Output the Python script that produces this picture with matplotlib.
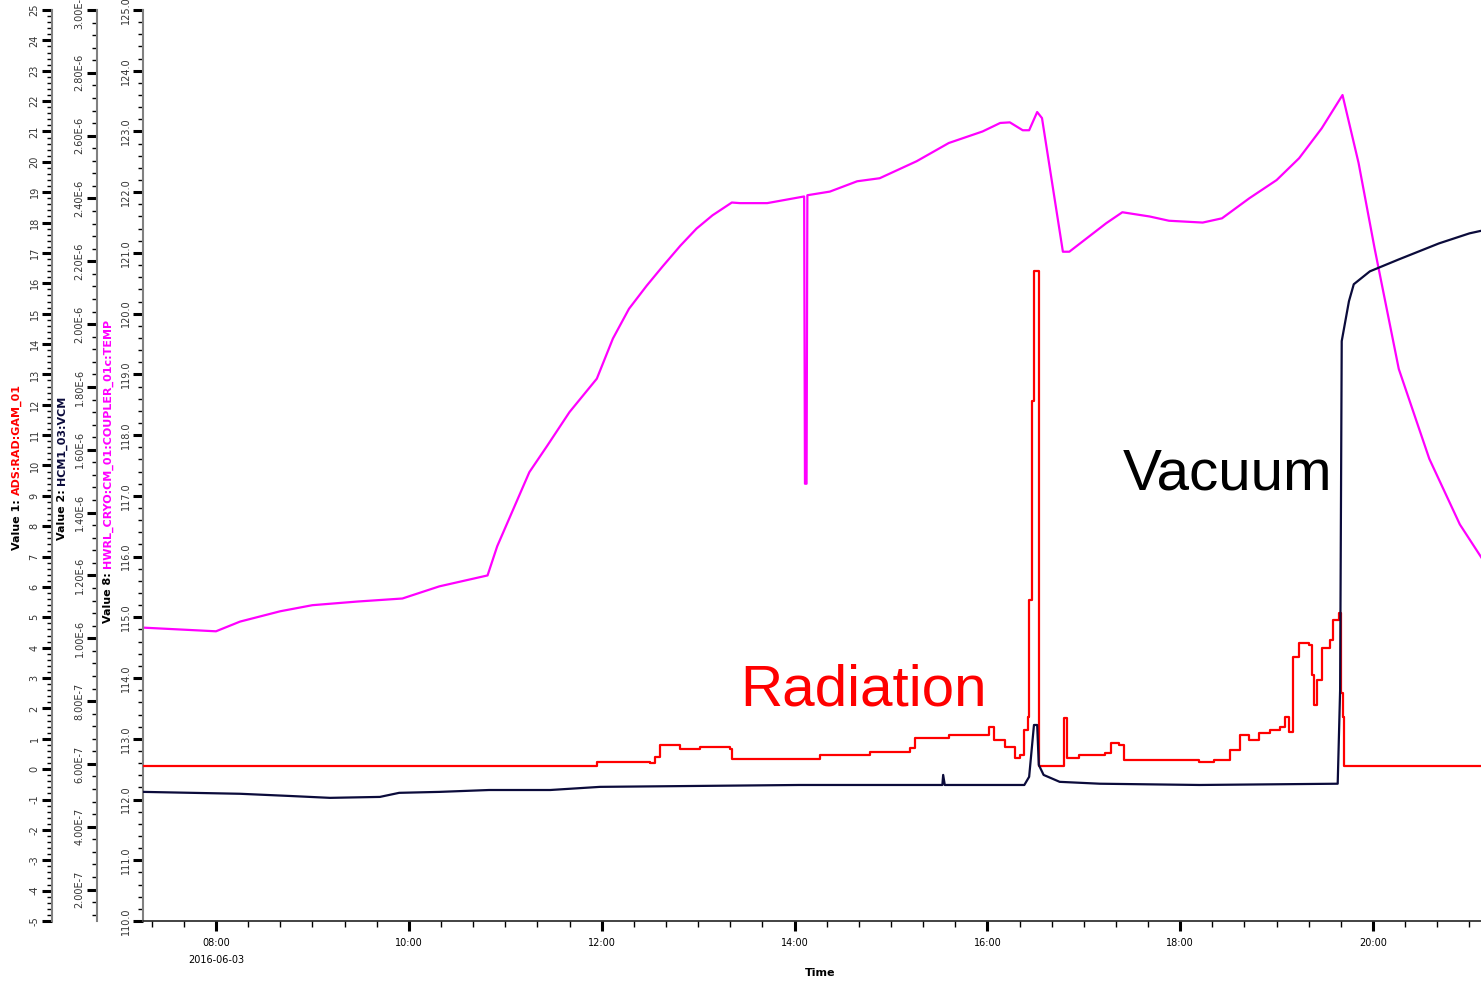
import matplotlib
matplotlib.use('Agg')
from matplotlib import pyplot as plt
import matplotlib.dates as mdates
from matplotlib.ticker import MultipleLocator, FuncFormatter
import numpy as np
import pandas as pd

DAY = '2016-06-03 '

# Value 8: HWRL_CRYO:CM_01:COUPLER_01c:TEMP
temp_t = ['07:15', '08:00', '08:15', '08:40', '09:00', '09:28', '09:56', '10:19', '10:49',
          '10:55', '11:05', '11:15', '11:26', '11:40', '11:57', '12:07', '12:17', '12:28',
          '12:38', '12:49', '12:59', '13:09', '13:21', '13:26', '13:43', '14:06', '14:06:30',
          '14:07:30', '14:08', '14:22', '14:39', '14:53', '15:16', '15:36', '15:57', '16:08',
          '16:14', '16:22', '16:26', '16:31', '16:34', '16:47', '16:51', '17:14', '17:24',
          '17:41', '17:53', '18:14', '18:26', '18:43', '19:00', '19:14', '19:28', '19:41',
          '19:51', '20:01', '20:16', '20:35', '20:54', '21:08']
temp_v = [114.83, 114.77, 114.93, 115.10, 115.20, 115.26, 115.31, 115.51, 115.69,
          116.17, 116.78, 117.39, 117.82, 118.38, 118.93, 119.59, 120.08, 120.46,
          120.78, 121.12, 121.40, 121.62, 121.83, 121.82, 121.82, 121.93, 117.20,
          117.20, 121.95, 122.01, 122.18, 122.23, 122.51, 122.81, 123.00, 123.14,
          123.15, 123.02, 123.02, 123.32, 123.22, 121.02, 121.02, 121.49, 121.67,
          121.60, 121.53, 121.50, 121.57, 121.90, 122.20, 122.56, 123.05, 123.60,
          122.48, 121.07, 119.09, 117.61, 116.53, 115.96]

# Value 2: HCM1_03:VCM (units of 1E-6)
vac_t = ['07:15', '08:15', '08:46', '09:11', '09:42', '09:54', '10:19', '10:50', '11:28',
         '11:59', '13:01', '14:03', '15:32', '15:32:30', '15:33:30', '16:23', '16:26',
         '16:29', '16:31', '16:32', '16:35', '16:45', '17:10', '18:12', '19:38',
         '19:39:30', '19:40:30', '19:45', '19:48', '19:58', '20:16', '20:41', '21:00', '21:08']
vac_v = [0.511, 0.505, 0.498, 0.492, 0.495, 0.508, 0.511, 0.517, 0.517,
         0.527, 0.530, 0.533, 0.533, 0.565, 0.533, 0.533, 0.559,
         0.724, 0.724, 0.597, 0.565, 0.543, 0.537, 0.533, 0.537,
         0.835, 1.946, 2.073, 2.127, 2.168, 2.206, 2.257, 2.289, 2.298]

# Value 1: ADS:RAD:GAM_01
rad_t = ['07:15', '11:56', '11:57', '12:30', '12:33', '12:36', '12:49', '13:01', '13:20',
         '13:21', '13:38', '14:16', '14:47', '15:12', '15:15', '15:36', '16:01', '16:04',
         '16:11', '16:17', '16:20', '16:23', '16:25', '16:26', '16:28', '16:29', '16:31',
         '16:32', '16:47', '16:48', '16:49', '16:49:30', '16:57', '17:13', '17:17', '17:22',
         '17:25', '18:12', '18:21', '18:31', '18:37', '18:43', '18:49', '18:56', '19:02',
         '19:05', '19:08', '19:10', '19:14', '19:20', '19:22', '19:23', '19:25', '19:28',
         '19:33', '19:35', '19:39', '19:40', '19:41', '19:42', '21:08']
rad_v = [0.10, 0.10, 0.23, 0.20, 0.39, 0.79, 0.66, 0.72, 0.66,
         0.33, 0.33, 0.46, 0.56, 0.69, 1.02, 1.12, 1.38, 0.95,
         0.72, 0.36, 0.46, 1.28, 1.71, 5.56, 12.14, 16.41, 16.41,
         0.10, 0.10, 1.68, 1.68, 0.36, 0.46, 0.53, 0.86, 0.79,
         0.30, 0.23, 0.30, 0.63, 1.12, 0.95, 1.18, 1.28, 1.38,
         1.71, 1.22, 3.68, 4.14, 4.08, 3.09, 2.11, 2.93, 3.98,
         4.24, 4.90, 5.13, 2.50, 1.71, 0.10, 0.10]

MAGENTA = '#ff00ff'
RED = '#ff0000'
NAVY = '#0b0b3b'
SPINE = '#808080'
TXT = '#333333'


def times(lst):
    return pd.to_datetime([DAY + (s if s.count(':') == 2 else s + ':00') for s in lst])


W, H = 1481, 981
fig = plt.figure(figsize=(W / 100, H / 100), dpi=100)
plot_w = (W - 143) / W
ax = fig.add_axes([143 / W, 60 / H, plot_w, 911 / H])
ax_rad = ax.twinx()
ax_vac = ax.twinx()

ax.plot(times(temp_t), temp_v, color=MAGENTA, lw=1.6)
ax_vac.plot(times(vac_t), np.array(vac_v) * 1e-6, color=NAVY, lw=1.6)
ax_rad.plot(times(rad_t), rad_v, color=RED, lw=1.6, drawstyle='steps-post')

ax.set_xlim(pd.Timestamp(DAY + '07:14:36'), pd.Timestamp(DAY + '21:07:10'))
ax.set_ylim(110, 125)
ax_rad.set_ylim(-5, 25)
ax_vac.set_ylim(1.0e-7, 3.0e-6)

# left axes stacked outward
for a, off in [(ax_rad, -91), (ax_vac, -46)]:
    a.yaxis.set_ticks_position('left')
    a.yaxis.set_label_position('left')
    a.spines['left'].set_position(('axes', off / (W - 143)))
    a.spines['left'].set_visible(True)
    for s in ['top', 'right', 'bottom']:
        a.spines[s].set_visible(False)
    a.patch.set_visible(False)
ax.spines['top'].set_visible(False)
ax.spines['right'].set_visible(False)

ax.yaxis.set_major_locator(MultipleLocator(1))
ax.yaxis.set_minor_locator(MultipleLocator(0.2))
ax.yaxis.set_major_formatter(FuncFormatter(lambda v, p: '%.1f' % v))
ax_rad.yaxis.set_major_locator(MultipleLocator(1))
ax_rad.yaxis.set_minor_locator(MultipleLocator(0.2))
ax_rad.yaxis.set_major_formatter(FuncFormatter(lambda v, p: '%d' % round(v)))
ax_vac.yaxis.set_major_locator(MultipleLocator(2e-7))
ax_vac.yaxis.set_minor_locator(MultipleLocator(4e-8))
ax_vac.yaxis.set_major_formatter(
    FuncFormatter(lambda v, p: ('%.2E' % v).replace('E-0', 'E-').replace('E+00', 'E0')))

for a in [ax, ax_rad, ax_vac]:
    a.spines['left'].set_color(SPINE)
    a.spines['left'].set_linewidth(1.5)
    a.tick_params(axis='y', which='major', length=7, width=2.2, color='black',
                  labelsize=7, labelcolor=TXT, labelrotation=90, pad=2)
    a.tick_params(axis='y', which='minor', length=3.5, width=1, color='black')
    for lab in a.get_yticklabels():
        lab.set_va('center')

# time axis
ax.spines['bottom'].set_color('#222222')
ax.spines['bottom'].set_linewidth(1.2)
ax.xaxis.set_major_locator(mdates.HourLocator(byhour=range(0, 24, 2)))
ax.xaxis.set_minor_locator(mdates.MinuteLocator(byminute=[0, 20, 40]))


def fmt_time(v, p):
    d = mdates.num2date(v)
    s = d.strftime('%H:%M')
    if d.hour == 8 and d.minute == 0:
        s += '\n2016-06-03'
    return s


ax.xaxis.set_major_formatter(FuncFormatter(fmt_time))
ax.tick_params(axis='x', which='major', length=7, width=2.2, color='black',
               labelsize=7, labelcolor='black', pad=5)
ax.tick_params(axis='x', which='minor', length=4, width=1, color='black')
for lab in ax.get_xticklabels():
    lab.set_linespacing(1.9)

fig.text(820 / W, 1 - 973 / H, 'Time', ha='center', va='center',
         fontsize=8, fontweight='bold')

# axis titles: black prefix + coloured channel name
fig.canvas.draw()
renderer = fig.canvas.get_renderer()
for xpx, ypx, name, col in [(17, 550, 'ADS:RAD:GAM_01', RED),
                             (62, 540, 'HCM1_03:VCM', NAVY),
                             (108, 623, 'HWRL_CRYO:CM_01:COUPLER_01c:TEMP', MAGENTA)]:
    num = {RED: '1', NAVY: '2', MAGENTA: '8'}[col]
    t1 = fig.text(xpx / W, 1 - ypx / H, 'Value %s:' % num, rotation=90, ha='center',
                  va='bottom', fontsize=8, fontweight='bold', color='black')
    bb = t1.get_window_extent(renderer)
    fig.text(xpx / W, (bb.y1 + 4) / H, name, rotation=90, ha='center', va='bottom',
             fontsize=8, fontweight='bold', color=col)

fig.text(740 / W, 1 - 705 / H, 'Radiation', color=RED, fontsize=42,
         family='Liberation Sans', ha='left', va='baseline')
fig.text(1123 / W, 1 - 490 / H, 'Vacuum', color='black', fontsize=42,
         family='Liberation Sans', ha='left', va='baseline')

plt.savefig('out.png', dpi=100)
